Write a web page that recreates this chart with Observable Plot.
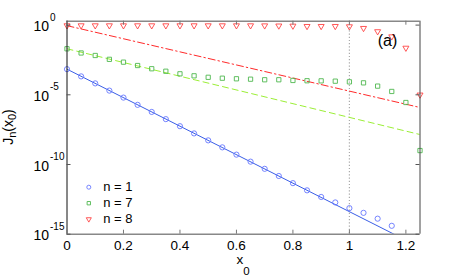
<!DOCTYPE html>
<html><head><meta charset="utf-8">
<script src="https://cdn.jsdelivr.net/npm/d3@7"></script>
<script src="https://cdn.jsdelivr.net/npm/@observablehq/plot@0.6"></script>
<style>body{margin:0;background:#fff} svg{display:block}</style>
</head><body><div id="chart"></div>
<script>
// ---- data ----
const xTicks = [0, 0.2, 0.4, 0.6, 0.8, 1, 1.2];
const xTickLabels = ["0", "0.2", "0.4", "0.6", "0.8", "1", "1.2"];
const yTicks = [1, 1e-5, 1e-10, 1e-15];
const yTickExps = ["0", "-5", "-10", "-15"];

const n1X = [0,0.05,0.1,0.15,0.2,0.25,0.3,0.35,0.4,0.45,0.5,0.55,0.6,0.65,0.7,0.75,0.8,0.85,0.9,0.95,1.0,1.05,1.1,1.15];
const n1Y = [6.9e-4,2.1e-4,6.6e-5,2.0e-5,6.3e-6,1.9e-6,5.9e-7,1.8e-7,5.6e-8,1.7e-8,5.4e-9,1.7e-9,5.1e-10,1.6e-10,4.9e-11,1.5e-11,4.6e-12,1.4e-12,4.7e-13,1.9e-13,7.4e-14,3.4e-14,1.3e-14,4.0e-15];

const n7X = [0,0.05,0.1,0.15,0.2,0.25,0.3,0.35,0.4,0.45,0.5,0.55,0.6,0.65,0.7,0.75,0.8,0.85,0.9,0.95,1.0,1.05,1.1,1.15,1.2,1.25];
const n7Y = [2.0e-2,1.0e-2,6.6e-3,3.5e-3,2.2e-3,1.26e-3,7.4e-4,4.9e-4,3.2e-4,2.3e-4,1.8e-4,1.55e-4,1.41e-4,1.32e-4,1.2e-4,1.2e-4,1.07e-4,1.02e-4,1.0e-4,9.5e-5,8.5e-5,7.2e-5,4.2e-5,1.74e-5,2.8e-6,1.0e-9];

const n8X = [0,0.05,0.1,0.15,0.2,0.25,0.3,0.35,0.4,0.45,0.5,0.55,0.6,0.65,0.7,0.75,0.8,0.85,0.9,0.95,1.0,1.05,1.1,1.15,1.2,1.25];
const n8Y = [0.93,0.93,0.93,0.93,0.93,0.93,0.93,0.93,0.93,0.93,0.93,0.93,0.93,0.93,0.92,0.9,0.88,0.83,0.83,0.83,0.79,0.60,0.35,0.15,0.023,1.0e-5];

const fitX = [0, 1.25];
const fit1 = [6.9e-4, 1.15e-16];
const fit7 = [2.0e-2, 1.41e-8];
const fit8 = [0.91, 1.23e-6];

const legendLabels = ["n = 1", "n = 7", "n = 8"];

// ---- styles ----
const cBlueDot = "#6677ff", cBlueLine = "#3a5ee6";
const cGreenDot = "#4fb84f", cGreenLine = "#9bee36";
const cRedDot = "#ff4444", cRedLine = "#ff2a2a";
const FONT = "'Liberation Sans', Arial, Helvetica, sans-serif";

const triDown = {
  draw(ctx, size) {
    const r = Math.sqrt(size / Math.PI);
    const s = 2.4 * r, h = s * Math.sqrt(3) / 2;
    ctx.moveTo(0, 2 * h / 3);
    ctx.lineTo(-s / 2, -h / 3);
    ctx.lineTo(s / 2, -h / 3);
    ctx.closePath();
  }
};

const pts = (xs, ys) => xs.map((x, i) => ({x, y: ys[i]}));
const yDomain = [1e-15, 1.905];
const xDomain = [0, 1.25];

const plot = Plot.plot({
  width: 463, height: 279,
  marginLeft: 66.5, marginRight: 43.5, marginTop: 20.7, marginBottom: 45.3,
  x: {domain: xDomain, axis: null},
  y: {type: "log", domain: yDomain, axis: null},
  style: {fontFamily: FONT, background: "#fff", color: "#000"},
  marks: [
    Plot.ruleX([1], {stroke: "#aaa", strokeDasharray: "1.2,2", strokeWidth: 1.2}),
    Plot.line(pts(fitX, fit1), {x: "x", y: "y", stroke: cBlueLine, strokeWidth: 1, clip: true}),
    Plot.line(pts(fitX, fit7), {x: "x", y: "y", stroke: cGreenLine, strokeWidth: 1, strokeDasharray: "6,4", clip: true}),
    Plot.line(pts(fitX, fit8), {x: "x", y: "y", stroke: cRedLine, strokeWidth: 1, strokeDasharray: "7,3,1.5,3", clip: true}),
    Plot.dot(pts(n1X, n1Y), {x: "x", y: "y", symbol: "circle", r: 2.6, stroke: cBlueDot, strokeWidth: 0.9, fill: "none"}),
    Plot.dot(pts(n7X, n7Y), {x: "x", y: "y", symbol: "square", r: 2.4, stroke: cGreenDot, strokeWidth: 0.9, fill: "none"}),
    Plot.dot(pts(n8X, n8Y), {x: "x", y: "y", symbol: triDown, r: 2.5, stroke: cRedDot, strokeWidth: 0.9, fill: "none"}),
    // frame
    Plot.ruleY([yDomain[0]], {stroke: "#888", strokeWidth: 1.6}),
    Plot.ruleY([yDomain[1]], {stroke: "#888", strokeWidth: 1.6}),
    Plot.ruleX([xDomain[0]], {stroke: "#111", strokeWidth: 1}),
    Plot.ruleX([xDomain[1]], {stroke: "#444", strokeWidth: 1}),
    // ticks (inward)
    Plot.ruleX(xTicks, {insetTop: 209, stroke: "#777"}),
    Plot.ruleX(xTicks, {insetBottom: 209, stroke: "#777"}),
    Plot.ruleY(yTicks, {insetRight: 349, stroke: "#555"}),
    Plot.ruleY(yTicks, {insetLeft: 349, stroke: "#555"}),
    // tick labels
    Plot.text(xTicks, {x: d => d, text: (d, i) => xTickLabels[i], frameAnchor: "bottom", lineAnchor: "bottom", dy: 15.3, fontSize: 13.5, fill: "#000"}),
    Plot.text(yTicks, {y: d => d, text: () => "10", frameAnchor: "left", textAnchor: "start", lineAnchor: "bottom", dx: -33.5, dy: 6, fontSize: 14, fill: "#000"}),
    Plot.text(yTicks, {y: d => d, text: (d, i) => yTickExps[i], frameAnchor: "left", textAnchor: "start", lineAnchor: "bottom", dx: -17, dy: -4.5, fontSize: 10, fill: "#000"}),
    // panel label
    Plot.text(["(a)"], {x: () => 1.135, y: () => 0.031, textAnchor: "middle", lineAnchor: "bottom", fontSize: 16, fill: "#000"}),
    // legend
    Plot.dot([0], {frameAnchor: "bottom-left", dx: 21.8, dy: -47, symbol: "circle", r: 2, stroke: cBlueDot, strokeWidth: 0.9, fill: "none"}),
    Plot.dot([0], {frameAnchor: "bottom-left", dx: 21.8, dy: -31, symbol: "square", r: 1.9, stroke: cGreenDot, strokeWidth: 0.9, fill: "none"}),
    Plot.dot([0], {frameAnchor: "bottom-left", dx: 21.8, dy: -15, symbol: triDown, r: 2.1, stroke: cRedDot, strokeWidth: 0.9, fill: "none"}),
    Plot.text([legendLabels[0]], {frameAnchor: "bottom-left", dx: 36.2, dy: -47, textAnchor: "start", lineAnchor: "middle", fontSize: 13, fill: "#000"}),
    Plot.text([legendLabels[1]], {frameAnchor: "bottom-left", dx: 36.2, dy: -31, textAnchor: "start", lineAnchor: "middle", fontSize: 13, fill: "#000"}),
    Plot.text([legendLabels[2]], {frameAnchor: "bottom-left", dx: 36.2, dy: -15, textAnchor: "start", lineAnchor: "middle", fontSize: 13, fill: "#000"})
  ]
});

document.getElementById("chart").appendChild(plot);

// axis titles with sub-scripts
const svg = d3.select(plot);
const xl = svg.append("text").attr("x", 243).attr("y", 263.5).attr("text-anchor", "middle")
  .attr("font-family", FONT).attr("font-size", 13.5).attr("fill", "#000");
xl.append("tspan").text("x");
xl.append("tspan").attr("font-size", 11.5).attr("dy", 11).text("0");

const yl = svg.append("text").attr("transform", "translate(13,127) rotate(-90)").attr("text-anchor", "middle")
  .attr("font-family", FONT).attr("font-size", 14).attr("fill", "#000");
yl.append("tspan").text("J");
yl.append("tspan").attr("font-size", 11).attr("dy", 3).text("n");
yl.append("tspan").attr("dy", -3).text("(x");
yl.append("tspan").attr("font-size", 11).attr("dy", 3).text("0");
yl.append("tspan").attr("dy", -3).text(")");
</script>
</body></html>
